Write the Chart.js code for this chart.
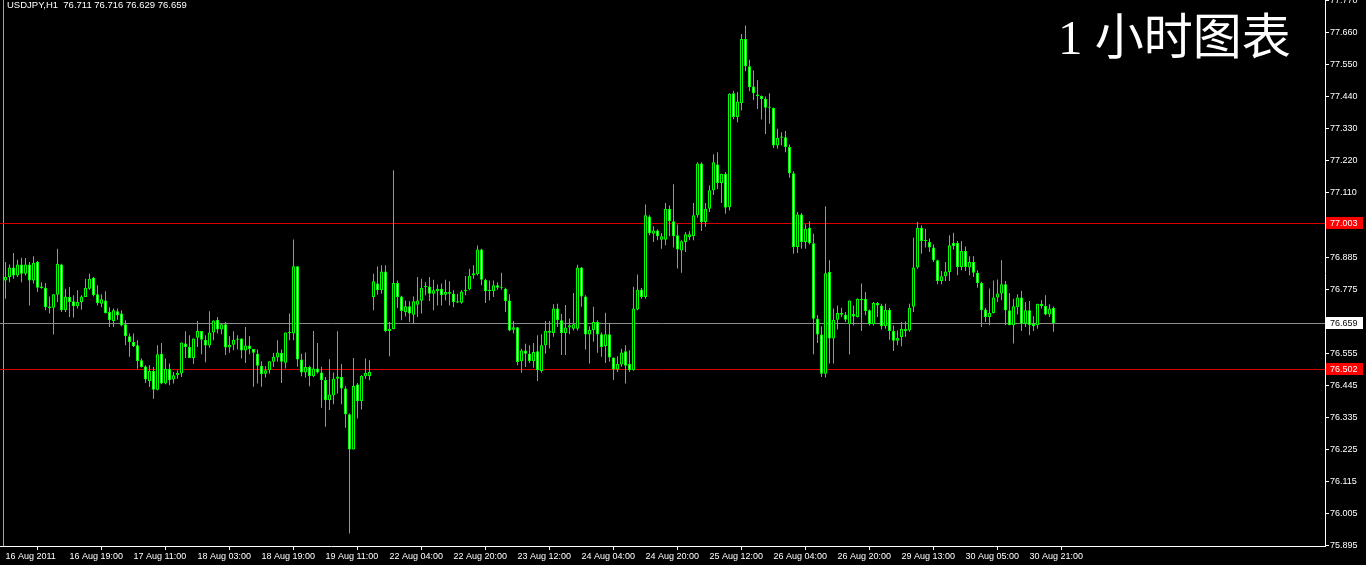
<!DOCTYPE html>
<html>
<head>
<meta charset="utf-8">
<script src="https://cdn.jsdelivr.net/npm/chart.js@4/dist/chart.umd.min.js"></script>
<style>
  html, body { margin: 0; padding: 0; background: #000; overflow: hidden; }
  canvas { display: block; }
</style>
</head>
<body>
<canvas id="chart" width="1366" height="565"></canvas>
<script>
// USDJPY H1, one value per hourly bar (16 Aug 2011 03:00 .. 31 Aug 2011)
const symbol = 'USDJPY,H1';

const openPrices = [
  76.806,76.818,76.850,76.823,76.861,76.829,76.861,76.806,76.870,76.785,
  76.781,76.716,76.712,76.757,76.861,76.703,76.749,76.734,76.717,76.732,
  76.749,76.777,76.815,76.758,76.726,76.737,76.697,76.666,76.700,76.692,
  76.655,76.614,76.594,76.583,76.531,76.510,76.460,76.494,76.430,76.554,
  76.451,76.502,76.465,76.480,76.486,76.589,76.577,76.539,76.609,76.632,
  76.602,76.582,76.627,76.671,76.637,76.655,76.575,76.585,76.602,76.606,
  76.565,76.582,76.570,76.554,76.512,76.485,76.497,76.526,76.541,76.557,
  76.523,76.627,76.623,76.855,76.534,76.489,76.508,76.476,76.503,76.489,
  76.463,76.394,76.411,76.468,76.474,76.434,76.345,76.224,76.448,76.390,
  76.476,76.477,76.749,76.795,76.772,76.837,76.632,76.639,76.797,76.751,
  76.697,76.717,76.688,76.722,76.736,76.783,76.785,76.760,76.769,76.777,
  76.757,76.760,76.760,76.734,76.729,76.769,76.775,76.823,76.827,76.912,
  76.808,76.774,76.769,76.789,76.781,76.777,76.737,76.636,76.645,76.528,
  76.565,76.554,76.528,76.562,76.494,76.583,76.633,76.625,76.709,76.669,
  76.625,76.644,76.640,76.640,76.850,76.751,76.620,76.635,76.663,76.621,
  76.580,76.621,76.541,76.499,76.517,76.562,76.518,76.497,76.706,76.774,
  76.749,77.026,76.967,76.978,76.946,76.946,77.053,77.010,76.961,76.909,
  76.938,76.955,76.958,77.030,77.208,77.007,77.053,77.116,77.205,77.141,
  77.173,77.058,77.450,77.368,77.416,77.637,77.543,77.473,77.446,77.441,
  77.431,77.400,77.400,77.270,77.297,77.299,77.265,77.175,76.921,77.033,
  76.938,76.987,76.934,76.674,76.620,76.485,76.835,76.606,76.671,76.694,
  76.688,76.655,76.690,76.680,76.743,76.743,76.703,76.655,76.728,76.720,
  76.648,76.705,76.632,76.598,76.611,76.632,76.634,76.715,76.850,76.987,
  76.942,76.938,76.919,76.875,76.804,76.820,76.835,76.936,76.936,76.852,
  76.907,76.850,76.869,76.832,76.797,76.706,76.680,76.694,76.747,76.761,
  76.793,76.703,76.652,76.714,76.747,76.657,76.703,76.657,76.652,76.726,
  76.718,76.689,76.711
];

const highPrices = [
  76.869,76.861,76.900,76.877,76.884,76.883,76.869,76.889,76.873,76.800,
  76.797,76.751,76.758,76.915,76.863,76.777,76.783,76.755,76.772,76.755,
  76.812,76.829,76.818,76.789,76.758,76.769,76.714,76.709,76.709,76.703,
  76.669,76.623,76.623,76.600,76.537,76.514,76.514,76.508,76.583,76.591,
  76.537,76.520,76.491,76.497,76.592,76.631,76.617,76.606,76.666,76.632,
  76.617,76.700,76.668,76.680,76.655,76.663,76.614,76.631,76.617,76.606,
  76.646,76.614,76.570,76.568,76.528,76.511,76.528,76.557,76.600,76.568,
  76.627,76.692,76.947,76.855,76.554,76.558,76.512,76.632,76.591,76.509,
  76.474,76.535,76.489,76.631,76.518,76.442,76.348,76.539,76.453,76.480,
  76.537,76.531,76.829,76.854,76.858,76.858,76.663,77.185,76.806,76.753,
  76.737,76.734,76.751,76.818,76.812,76.800,76.818,76.808,76.792,76.795,
  76.808,76.803,76.772,76.760,76.772,76.821,76.846,76.858,76.926,76.915,
  76.812,76.806,76.806,76.800,76.832,76.781,76.758,76.666,76.646,76.571,
  76.588,76.583,76.591,76.617,76.621,76.666,76.666,76.724,76.726,76.690,
  76.721,76.675,76.763,76.860,76.852,76.755,76.648,76.715,76.669,76.627,
  76.695,76.660,76.541,76.545,76.571,76.583,76.566,76.784,76.826,76.780,
  77.067,77.030,76.992,76.982,76.969,77.072,77.064,77.137,76.998,76.944,
  76.973,76.975,77.072,77.213,77.213,77.072,77.133,77.240,77.247,77.173,
  77.179,77.450,77.459,77.454,77.654,77.683,77.565,77.528,77.496,77.442,
  77.439,77.450,77.400,77.328,77.316,77.320,77.274,77.182,77.041,77.038,
  76.999,77.010,76.967,76.686,76.648,77.061,76.875,76.709,76.720,76.712,
  76.697,76.737,76.720,76.745,76.795,76.766,76.706,76.732,76.732,76.726,
  76.726,76.712,76.651,76.634,76.663,76.665,76.726,76.953,77.007,76.995,
  76.984,76.950,76.930,76.877,76.838,76.869,76.961,76.970,76.942,76.942,
  76.923,76.889,76.889,76.841,76.801,76.712,76.778,76.806,76.809,76.875,
  76.804,76.763,76.743,76.758,76.770,76.732,76.735,76.683,76.726,76.738,
  76.755,76.724,76.716
];

const lowPrices = [
  76.743,76.800,76.812,76.818,76.800,76.823,76.720,76.795,76.766,76.777,
  76.703,76.692,76.620,76.732,76.697,76.697,76.680,76.678,76.709,76.705,
  76.749,76.774,76.751,76.720,76.714,76.692,76.646,76.646,76.671,76.648,
  76.583,76.543,76.577,76.502,76.506,76.453,76.439,76.399,76.428,76.449,
  76.449,76.445,76.451,76.468,76.474,76.539,76.539,76.518,76.577,76.552,
  76.524,76.574,76.600,76.623,76.621,76.549,76.557,76.566,76.568,76.537,
  76.522,76.552,76.440,76.451,76.440,76.472,76.486,76.508,76.526,76.453,
  76.503,76.600,76.600,76.509,76.476,76.472,76.442,76.474,76.486,76.368,
  76.302,76.360,76.380,76.417,76.380,76.299,75.935,76.224,76.331,76.362,
  76.468,76.462,76.703,76.757,76.760,76.628,76.545,76.638,76.711,76.669,
  76.682,76.663,76.657,76.680,76.692,76.755,76.735,76.703,76.720,76.720,
  76.737,76.720,76.714,76.728,76.726,76.755,76.772,76.812,76.823,76.789,
  76.728,76.737,76.749,76.774,76.774,76.697,76.631,76.623,76.514,76.488,
  76.508,76.522,76.505,76.460,76.488,76.554,76.572,76.612,76.646,76.549,
  76.549,76.621,76.634,76.634,76.715,76.568,76.520,76.595,76.557,76.543,
  76.522,76.526,76.463,76.491,76.509,76.451,76.491,76.495,76.703,76.743,
  76.743,76.961,76.938,76.944,76.915,76.927,76.958,76.919,76.847,76.832,
  76.904,76.944,76.944,77.022,76.976,76.990,77.041,77.100,77.121,77.072,
  77.035,77.047,77.361,77.350,77.391,77.526,77.457,77.427,77.396,77.360,
  77.310,77.345,77.262,77.259,77.270,77.247,77.159,76.898,76.900,76.915,
  76.915,76.930,76.552,76.591,76.474,76.472,76.520,76.520,76.637,76.680,
  76.663,76.551,76.651,76.678,76.632,76.686,76.651,76.651,76.680,76.637,
  76.640,76.602,76.563,76.583,76.579,76.612,76.629,76.697,76.846,76.898,
  76.919,76.904,76.869,76.793,76.793,76.804,76.804,76.912,76.824,76.841,
  76.838,76.824,76.818,76.781,76.646,76.663,76.652,76.692,76.732,76.738,
  76.652,76.652,76.589,76.689,76.632,76.646,76.617,76.632,76.640,76.709,
  76.686,76.680,76.629
];

const closePrices = [
  76.818,76.850,76.823,76.861,76.829,76.861,76.806,76.867,76.781,76.780,
  76.714,76.711,76.758,76.863,76.703,76.751,76.732,76.717,76.732,76.751,
  76.781,76.812,76.755,76.728,76.741,76.694,76.669,76.703,76.686,76.651,
  76.614,76.594,76.579,76.529,76.508,76.465,76.494,76.430,76.552,76.451,
  76.502,76.462,76.480,76.488,76.592,76.577,76.539,76.606,76.632,76.602,
  76.582,76.627,76.668,76.637,76.655,76.575,76.584,76.602,76.606,76.565,
  76.582,76.570,76.557,76.512,76.483,76.497,76.528,76.542,76.558,76.526,
  76.627,76.625,76.855,76.534,76.489,76.508,76.476,76.503,76.489,76.463,
  76.394,76.413,76.468,76.475,76.434,76.345,76.224,76.443,76.390,76.478,
  76.487,76.491,76.803,76.772,76.837,76.632,76.640,76.797,76.749,76.701,
  76.717,76.692,76.734,76.737,76.781,76.783,76.760,76.772,76.777,76.755,
  76.766,76.766,76.732,76.730,76.768,76.774,76.822,76.831,76.912,76.808,
  76.769,76.769,76.789,76.781,76.781,76.735,76.634,76.645,76.525,76.565,
  76.554,76.528,76.560,76.497,76.583,76.633,76.626,76.709,76.669,76.625,
  76.644,76.652,76.655,76.850,76.751,76.620,76.635,76.663,76.620,76.577,
  76.621,76.541,76.499,76.518,76.558,76.512,76.497,76.709,76.774,76.749,
  77.030,76.969,76.978,76.958,76.958,77.053,77.010,76.958,76.912,76.941,
  76.965,76.965,77.030,77.208,77.007,77.053,77.116,77.213,77.141,77.173,
  77.056,77.448,77.368,77.422,77.637,77.543,77.471,77.450,77.441,77.430,
  77.400,77.400,77.270,77.297,77.301,77.265,77.175,76.921,77.033,76.938,
  76.984,76.934,76.674,76.620,76.485,76.831,76.606,76.671,76.694,76.688,
  76.671,76.737,76.682,76.743,76.738,76.701,76.655,76.728,76.720,76.648,
  76.705,76.632,76.598,76.609,76.640,76.640,76.712,76.850,76.987,76.942,
  76.942,76.919,76.875,76.804,76.820,76.837,76.927,76.924,76.852,76.907,
  76.852,76.869,76.832,76.797,76.703,76.680,76.694,76.747,76.761,76.793,
  76.703,76.652,76.717,76.747,76.657,76.703,76.652,76.648,76.726,76.718,
  76.689,76.709,76.659
];

// time labels, one every 16 bars
const xTickLabels = [
  '16 Aug 2011', '16 Aug 19:00', '17 Aug 11:00', '18 Aug 03:00', '18 Aug 19:00',
  '19 Aug 11:00', '22 Aug 04:00', '22 Aug 20:00', '23 Aug 12:00', '24 Aug 04:00',
  '24 Aug 20:00', '25 Aug 12:00', '26 Aug 04:00', '26 Aug 20:00', '29 Aug 13:00',
  '30 Aug 05:00', '30 Aug 21:00'
];
const barsPerLabel = 16;

// price scale labels
const yTickValues = [
  77.770, 77.660, 77.550, 77.440, 77.330, 77.220, 77.110,
  76.885, 76.775, 76.555, 76.445, 76.335, 76.225, 76.115, 76.005, 75.895
];

// horizontal levels: two red lines and the bid line
const levelPrices = [77.003, 76.659, 76.502];

const chartTitle = '1 小时图表';

// ---- styles ----
const GREEN = '#00ff00';
const levelLineColors = ['#d80000', '#8c8c8c', '#d80000'];
const levelBoxColors = ['#ff0000', '#ffffff', '#ff0000'];
const levelTextColors = ['#ffffff', '#000000', '#ffffff'];
const AXIS_FONT = { family: '"Liberation Sans", Arial, sans-serif', size: 9 };

// candle bodies and wicks as floating bars
const bodyData = openPrices.map((o, i) => ({ x: i, y: [Math.min(o, closePrices[i]), Math.max(o, closePrices[i])] }));
const wickData = highPrices.map((h, i) => ({ x: i, y: [lowPrices[i], h] }));
const bodyFill = openPrices.map((o, i) => closePrices[i] >= o ? '#000000' : '#ffffff');

const chartBackground = {
    id: 'chartBackground',
    beforeDraw(chart) {
        const ctx = chart.ctx;
        ctx.save();
        ctx.fillStyle = '#000';
        ctx.fillRect(0, 0, chart.width, chart.height);
        ctx.restore();
    }
};

// price lines behind the candles, value boxes and captions on top
const overlays = {
    id: 'overlays',
    beforeDatasetsDraw(chart) {
        const { ctx, chartArea, scales: { y } } = chart;
        ctx.save();
        ctx.lineWidth = 1;
        // left window border
        ctx.strokeStyle = '#a0a0a0';
        ctx.beginPath();
        ctx.moveTo(3.5, chartArea.top);
        ctx.lineTo(3.5, chartArea.bottom);
        ctx.stroke();
        levelPrices.forEach((v, k) => {
            const py = Math.round(y.getPixelForValue(v)) + 0.5;
            ctx.strokeStyle = levelLineColors[k];
            ctx.beginPath();
            ctx.moveTo(chartArea.left, py);
            ctx.lineTo(chartArea.right, py);
            ctx.stroke();
        });
        ctx.restore();
    },
    afterDraw(chart) {
        const { ctx, chartArea, scales: { y } } = chart;
        ctx.save();
        ctx.font = '9px "Liberation Sans", Arial, sans-serif';
        ctx.textBaseline = 'middle';
        ctx.textAlign = 'left';
        levelPrices.forEach((v, k) => {
            const py = Math.round(y.getPixelForValue(v));
            ctx.fillStyle = levelBoxColors[k];
            ctx.fillRect(chartArea.right + 1, py - 6, 37, 12);
            ctx.fillStyle = levelTextColors[k];
            ctx.fillText(v.toFixed(3), chartArea.right + 5, py + 0.5);
        });

        // symbol and last bar OHLC
        const last = openPrices.length - 1;
        const header = symbol + '  ' + [openPrices[last], highPrices[last], lowPrices[last], closePrices[last]]
            .map(v => v.toFixed(3)).join(' ');
        ctx.font = '9.5px "Liberation Sans", Arial, sans-serif';
        ctx.fillStyle = '#ffffff';
        ctx.fillText(header, 7, 5);

        // big caption
        ctx.font = '49px "Liberation Serif", "Noto Sans CJK SC", serif';
        ctx.textBaseline = 'alphabetic';
        ctx.fillText(chartTitle, 1058, 54);
        ctx.restore();
    }
};

const ctx = document.getElementById('chart');
const config = {
    type: 'bar',
    data: {
        datasets: [
            {
                label: 'body',
                data: bodyData,
                backgroundColor: bodyFill,
                borderColor: GREEN,
                borderWidth: 1,
                borderSkipped: false,
                barThickness: 3,
                minBarLength: 1,
                inflateAmount: 0,
                grouped: false
            },
            {
                label: 'wick',
                data: wickData,
                backgroundColor: GREEN,
                borderWidth: 0,
                barThickness: 1,
                inflateAmount: 0,
                grouped: false
            }
        ]
    },
    options: {
        responsive: false,
        animation: false,
        devicePixelRatio: 1,
        layout: { padding: 0 },
        plugins: {
            legend: { display: false },
            tooltip: { enabled: false }
        },
        scales: {
            x: {
                type: 'linear',
                offset: false,
                min: -1.375,
                max: 329.875,
                afterBuildTicks(scale) {
                    scale.ticks = xTickLabels.map((_, k) => ({ value: k * barsPerLabel }));
                },
                afterFit(scale) {
                    scale.height = 19;
                    scale.paddingLeft = 0;
                    scale.paddingRight = 0;
                },
                grid: { drawOnChartArea: false, drawTicks: true, tickLength: 4, color: '#ffffff' },
                border: { color: '#ffffff', width: 1 },
                ticks: {
                    autoSkip: false,
                    maxRotation: 0,
                    minRotation: 0,
                    align: 'start',
                    padding: 1,
                    color: '#ffffff',
                    font: AXIS_FONT,
                    callback: (v) => xTickLabels[Math.round(v / barsPerLabel)]
                }
            },
            y: {
                type: 'linear',
                position: 'right',
                min: 75.892,
                max: 77.771,
                afterBuildTicks(scale) {
                    scale.ticks = yTickValues.map(v => ({ value: v }));
                },
                afterFit(scale) {
                    scale.width = 41;
                    scale.paddingTop = 0;
                    scale.paddingBottom = 0;
                },
                grid: { drawOnChartArea: false, drawTicks: true, tickLength: 4, color: '#ffffff' },
                border: { color: '#ffffff', width: 1 },
                ticks: {
                    padding: 1,
                    color: '#ffffff',
                    font: AXIS_FONT,
                    callback: (v) => Number(v).toFixed(3)
                }
            }
        }
    },
    plugins: [chartBackground, overlays]
};

new Chart(ctx, config);
</script>
</body>
</html>
